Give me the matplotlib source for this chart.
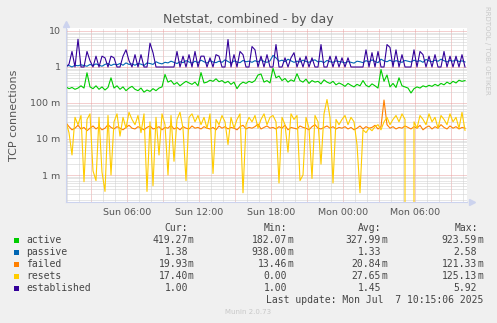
import pandas as pd
import matplotlib.pyplot as plt
import matplotlib.dates as mdates
from matplotlib.ticker import FixedLocator, FuncFormatter, NullFormatter, LogLocator
from matplotlib.patches import Rectangle

# Datos (pasos de 15 minutos)
start = "2025-07-06 00:55"

active_m = [280, 250, 270, 240, 260, 300, 260, 690, 280, 250, 300, 240, 280, 230, 270, 500, 260, 300, 240, 280, 220, 260, 290,
            240, 220, 260, 200, 230, 210, 250, 220, 260, 280, 620, 380, 420, 330, 370, 300, 350, 400, 360, 330, 380, 300, 700,
            360, 380, 430, 400, 470, 390, 420, 360, 400, 330, 380, 250, 330, 380, 350, 400, 370, 420, 600, 640, 380, 420, 360,
            920, 500, 560, 420, 480, 380, 440, 400, 650, 420, 380, 460, 350, 420, 380, 400, 340, 440, 380, 350, 400, 320, 360,
            330, 290, 350, 310, 280, 330, 300, 420, 310, 280, 340, 300, 260, 850, 400, 600, 280, 350, 270, 500, 300, 280,
            260, 190, 250, 280, 260, 300, 280, 310, 290, 330, 300, 350, 320, 380, 340, 400, 360, 430, 400, 420]

passive = [1.05, 1.10, 1.00, 1.12, 1.08, 1.15, 1.10, 1.05, 1.18, 1.10, 1.22, 1.12, 1.05, 1.18, 1.25, 1.10, 1.20, 1.15, 1.25, 1.12, 1.30, 1.18, 1.22,
           1.12, 1.25, 1.20, 1.10, 1.30, 1.25, 1.18, 1.40, 1.28, 1.22, 1.35, 1.30, 1.45, 1.35, 1.25, 1.40, 1.32, 1.50, 1.38, 1.28, 1.45, 1.32, 1.55,
           1.40, 1.28, 1.50, 1.38, 1.32, 1.45, 1.35, 1.58, 1.42, 1.28, 1.48, 1.38, 1.32, 1.52, 1.40, 1.45, 1.35, 1.50, 1.38, 1.60, 1.42, 1.35, 1.48,
           2.10, 1.80, 1.45, 1.55, 1.40, 1.65, 1.48, 1.35, 1.45, 1.38, 1.55, 1.42, 1.35, 1.50, 1.58, 1.38, 1.45, 1.32, 1.52, 1.40, 1.35, 1.48, 1.42,
           1.38, 1.30, 1.42, 1.35, 1.28, 1.45, 1.40, 1.32, 1.50, 1.38, 1.58, 1.42, 1.32, 1.65, 1.48, 1.40, 1.55, 1.38, 1.50, 1.42, 1.35, 1.52,
           1.45, 1.38, 1.55, 1.42, 1.50, 1.35, 1.62, 1.48, 1.40, 1.55, 1.44, 1.65, 1.50, 1.38, 1.52, 1.45, 1.58, 1.42, 1.48, 1.38]

failed_m = [28, 22, 18, 20, 24, 19, 21, 17, 20, 23, 19, 22, 18, 20, 25, 21, 19, 22, 20, 18, 21, 24, 20,
            19, 22, 20, 18, 21, 23, 19, 20, 22, 18, 21, 20, 24, 19, 21, 18, 22, 20, 19, 23, 20, 21, 19,
            22, 20, 19, 21, 18, 23, 20, 22, 19, 21, 20, 18, 22, 24, 19, 21, 20, 22, 26, 19, 21, 23, 20,
            21, 19, 22, 20, 24, 18, 21, 20, 19, 23, 21, 20, 18, 22, 25, 20, 19, 21, 23, 20, 22, 19, 21,
            20, 22, 19, 21, 18, 20, 23, 19, 22, 20, 21, 24, 19, 22, 121, 25, 20, 22, 19, 21, 20, 23,
            21, 19, 22, 20, 24, 18, 21, 23, 19, 22, 20, 25, 21, 19, 23, 20, 22, 19, 21, 19.93]

resets_m = [30, 15, 3.6, 40, 25, 45, 0.65, 35, 50, 1.3, 0.7, 40, 1.2, 0.35, 45, 1.0, 30, 50, 12, 40, 20, 55, 35,
            25, 45, 15, 50, 0.35, 30, 0.5, 40, 3.6, 50, 25, 1.0, 45, 2.4, 35, 55, 20, 0.7, 40, 50, 30, 45, 25,
            40, 20, 50, 1.1, 35, 25, 45, 30, 7, 40, 20, 35, 50, 0.32, 25, 40, 30, 45, 20, 35, 50, 25, 40,
            45, 30, 0.6, 40, 25, 4.3, 50, 35, 45, 0.7, 1.0, 40, 20, 0.8, 45, 30, 2.0, 50, 125, 40, 0.6, 35, 25,
            35, 45, 25, 40, 30, 7, 0.32, 18, 15, 20, 17, 22, 25, 18, 30, 40, 25, 35, 45, 30, 50, 35,
            0, 0, 30, 20, 45, 35, 25, 50, 30, 40, 20, 45, 35, 25, 50, 30, 40, 20, 55, 17.4]

established = [1.0, 1.2, 2.7, 1.0, 5.9, 1.0, 1.0, 2.7, 1.5, 1.0, 2.0, 1.0, 2.0, 1.8, 1.0, 2.0, 1.8, 1.0, 1.0, 2.0, 3.0, 1.5, 1.0,
               2.2, 1.0, 2.2, 1.0, 1.0, 4.6, 2.5, 1.0, 1.0, 1.0, 1.0, 1.0, 1.0, 1.0, 2.7, 1.0, 2.0, 1.0, 2.2, 1.0, 2.7, 1.0, 2.0,
               2.0, 1.0, 1.8, 1.0, 2.2, 2.0, 1.0, 1.0, 5.8, 1.0, 2.2, 1.0, 2.7, 2.2, 1.0, 1.0, 3.7, 3.0, 1.0, 2.0, 1.0, 2.2, 1.0,
               1.0, 4.2, 1.0, 1.0, 1.8, 1.0, 1.8, 2.5, 1.0, 1.8, 1.0, 2.0, 1.0, 1.8, 1.0, 1.0, 4.2, 1.0, 1.0, 2.0, 1.0, 2.0, 1.0,
               1.8, 1.0, 1.8, 1.0, 1.0, 1.0, 1.0, 1.0, 3.0, 1.0, 2.5, 1.0, 2.7, 1.0, 1.0, 4.2, 3.5, 1.0, 3.0, 1.0, 2.2, 1.0,
               1.0, 1.0, 3.0, 1.0, 2.7, 2.2, 1.0, 2.0, 1.0, 2.2, 1.0, 1.0, 2.7, 1.0, 2.0, 1.0, 2.0, 1.0, 2.2, 1.0]

# Leyenda
names = ["active", "passive", "failed", "resets", "established"]
colors = ["#00cc00", "#0066b3", "#ff8000", "#ffcc00", "#330099"]
cur = ["419.27m", "1.38", "19.93m", "17.40m", "1.00"]
mins = ["182.07m", "938.00m", "13.46m", "0.00", "1.00"]
avgs = ["327.99m", "1.33", "20.84m", "27.65m", "1.45"]
maxs = ["923.59m", "2.58", "121.33m", "125.13m", "5.92"]

times = pd.date_range(start, periods=len(active_m), freq="15min")
series = [
    [v / 1000 for v in active_m],
    passive,
    [v / 1000 for v in failed_m],
    [v / 1000 for v in resets_m],
    established,
]

W, H = 497, 323
def fx(x):
    return x / W
def fy(y):
    return 1 - y / H

fig = plt.figure(figsize=(W / 100, H / 100), dpi=100)
fig.patch.set_facecolor("#f0f0f0")
ax = fig.add_axes([fx(66), fy(202), (467 - 66) / W, (202 - 28) / H])
ax.set_facecolor("white")

for vals, c in zip(series, colors):
    ax.plot(times, vals, color=c, linewidth=0.8)

ax.set_yscale("log", nonpositive="clip")
ax.set_ylim(10 ** -3.75, 10 ** (39 / 36))
ax.set_xlim(pd.Timestamp("2025-07-06 00:55"), pd.Timestamp("2025-07-07 10:20"))

# Eje Y
ylabels = {10: "10", 1: "1", 0.1: "100 m", 0.01: "10 m", 0.001: "1 m"}
ax.yaxis.set_major_locator(FixedLocator([0.001, 0.01, 0.1, 1, 10]))
ax.yaxis.set_major_formatter(FuncFormatter(lambda v, p: ylabels.get(round(v, 3), "")))
ax.yaxis.set_minor_locator(LogLocator(base=10, subs=range(2, 10), numticks=20))
ax.yaxis.set_minor_formatter(NullFormatter())

# Eje X
ax.xaxis.set_major_locator(mdates.HourLocator(byhour=range(0, 24, 3)))
ax.xaxis.set_minor_locator(mdates.HourLocator())
ax.xaxis.set_major_formatter(FuncFormatter(
    lambda v, p: mdates.num2date(v).strftime("%a %H:%M") if mdates.num2date(v).hour % 6 == 0 else ""))

ax.grid(True, which="major", color="#e8a0a0", linestyle=(0, (1, 1)), linewidth=0.72)
ax.grid(True, which="minor", color="#cfcfcf", linestyle=(0, (1, 1)), linewidth=0.72)
ax.set_axisbelow(True)

ax.tick_params(which="both", length=0, colors="#555555", labelsize=6.8, pad=4)
for s in ["top", "right"]:
    ax.spines[s].set_visible(False)
for s in ["left", "bottom"]:
    ax.spines[s].set_color("#ccd3ee")
    ax.spines[s].set_linewidth(0.8)
ax.plot([0], [1.025], marker="^", color="#ccd3ee", markersize=5, transform=ax.transAxes, clip_on=False)
ax.plot([1.012], [0], marker=">", color="#ccd3ee", markersize=5, transform=ax.transAxes, clip_on=False)

ax.set_ylabel("TCP connections", fontsize=8, color="#555555", labelpad=8)

# Titulo y textos
fig.text(fx(248), fy(19), "Netstat, combined - by day", ha="center", va="center", fontsize=9, color="#555555")
fig.text(fx(487), fy(6), "RRDTOOL / TOBI OETIKER", rotation=270, ha="center", va="top", fontsize=5, color="#c8c8c8")

mono = dict(family="DejaVu Sans Mono", fontsize=7, color="#444444", va="center")
for col, xr in zip(["Cur:", "Min:", "Avg:", "Max:"], [188, 287, 381, 478]):
    fig.text(fx(xr), fy(228), col, ha="right", **mono)

for k in range(len(names)):
    y = 240 + 12 * k
    fig.add_artist(Rectangle((fx(14), fy(y + 3)), 5 / W, 5 / H, transform=fig.transFigure,
                             facecolor=colors[k], edgecolor="none"))
    fig.text(fx(26), fy(y), names[k], ha="left", **mono)
    for val, xr in zip([cur[k], mins[k], avgs[k], maxs[k]], [188, 287, 381, 477]):
        num = val[:-1] if val.endswith("m") else val
        fig.text(fx(xr), fy(y), num, ha="right", **mono)
        if val.endswith("m"):
            fig.text(fx(xr), fy(y), "m", ha="left", **mono)

fig.text(fx(483), fy(300), "Last update: Mon Jul  7 10:15:06 2025", ha="right", **mono)
fig.text(fx(248), fy(312), "Munin 2.0.73", ha="center", va="center", fontsize=5, color="#c8c8c8")

plt.savefig("out.png", dpi=100, facecolor=fig.get_facecolor())
